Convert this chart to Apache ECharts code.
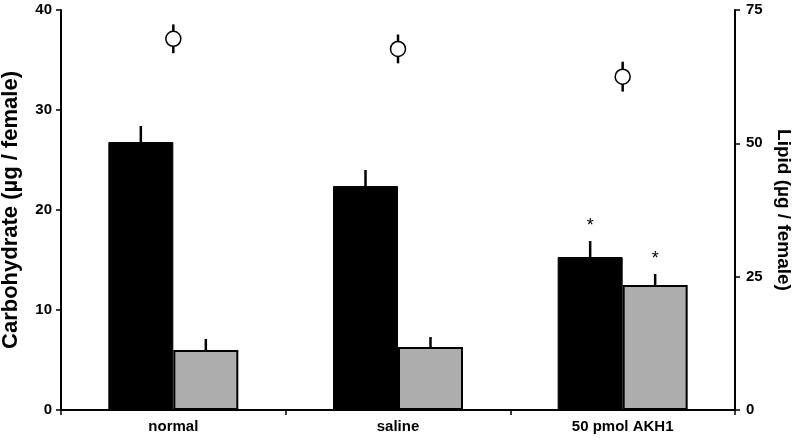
<!DOCTYPE html>
<html><head><meta charset="utf-8">
<script src="https://cdn.jsdelivr.net/npm/echarts@6/dist/echarts.min.js"></script>
<style>html,body{margin:0;padding:0;background:#fff}#c{width:800px;height:446px}</style>
</head><body><div id="c"></div>
<script>
const categories = ['normal', 'saline', '50 pmol AKH1'];
const blackVals = [26.8, 22.4, 15.3];
const blackErr  = [1.6, 1.6, 1.6];
const greyVals  = [6.0, 6.3, 12.5];
const greyErr   = [1.1, 1.0, 1.1];
const lipidVals = [69.6, 67.7, 62.5];
const lipidErr  = [2.7, 2.7, 2.8];
const blackSig  = [false, false, true];
const greySig   = [false, false, true];
const leftTicks = [0, 10, 20, 30, 40];
const rightTicks = [0, 25, 50, 75];

const FONT = '"Liberation Sans", Arial, sans-serif';
const BAR_W = 65;

function barErrSeries(vals, errs, sig, offset) {
  return {
    type: 'custom', xAxisIndex: 0, yAxisIndex: 0, z: 5,
    data: vals.map((v, i) => [i, v, errs[i], sig[i] ? 1 : 0]),
    renderItem: function (params, api) {
      const i = api.value(0), v = api.value(1), e = api.value(2), s = api.value(3);
      const p0 = api.coord([i, v]);
      const p1 = api.coord([i, v + e]);
      const x = p0[0] + offset;
      const children = [{
        type: 'line',
        shape: { x1: x, y1: p0[1], x2: x, y2: p1[1] },
        style: { stroke: '#000', lineWidth: 2.5 }
      }];
      if (s) {
        children.push({
          type: 'text',
          style: { text: '*', x: x, y: p1[1] - 6, align: 'center', verticalAlign: 'bottom',
                   font: '18px ' + FONT, fill: '#000' }
        });
      }
      return { type: 'group', children: children };
    }
  };
}

const chart = echarts.init(document.getElementById('c'), null, { renderer: 'canvas' });
chart.setOption({
  animation: false,
  backgroundColor: '#fff',
  grid: { left: 61, right: 65, top: 10, bottom: 36, containLabel: false, outerBoundsMode: 'none' },
  xAxis: {
    type: 'category', data: categories,
    axisLine: { lineStyle: { color: '#000', width: 2 } },
    axisTick: { show: true, length: 5, lineStyle: { color: '#000', width: 1.5 } },
    axisLabel: { color: '#000', fontWeight: 'bold', fontSize: 15, fontFamily: FONT, margin: 9 },
    splitLine: { show: false }
  },
  yAxis: [{
    type: 'value', min: 0, max: 40, interval: 10, position: 'left',
    name: 'Carbohydrate (µg / female)', nameLocation: 'middle', nameGap: 39, nameRotate: 90,
    nameTextStyle: { color: '#000', fontWeight: 'bold', fontSize: 22, fontFamily: FONT },
    axisLine: { show: true, lineStyle: { color: '#000', width: 2 } },
    axisTick: { show: true, length: 5, lineStyle: { color: '#000', width: 1.5 } },
    axisLabel: { color: '#000', fontWeight: 'bold', fontSize: 15, fontFamily: FONT, margin: 9,
                 formatter: v => leftTicks.includes(v) ? String(v) : '' },
    splitLine: { show: false }
  }, {
    type: 'value', min: 0, max: 75, interval: 25, position: 'right',
    name: 'Lipid (µg / female)', nameLocation: 'middle', nameGap: 38, nameRotate: -90,
    nameTextStyle: { color: '#000', fontWeight: 'bold', fontSize: 19, fontFamily: FONT },
    axisLine: { show: true, lineStyle: { color: '#000', width: 2 } },
    axisTick: { show: true, length: 5, lineStyle: { color: '#000', width: 1.5 } },
    axisLabel: { color: '#000', fontWeight: 'bold', fontSize: 15, fontFamily: FONT, margin: 11,
                 formatter: v => rightTicks.includes(v) ? String(v) : '' },
    splitLine: { show: false }
  }],
  series: [
    { type: 'bar', data: blackVals, barWidth: BAR_W, barGap: '0%', yAxisIndex: 0,
      itemStyle: { color: '#000', borderColor: '#000', borderWidth: 1 } },
    { type: 'bar', data: greyVals, barWidth: BAR_W, barGap: '0%', yAxisIndex: 0,
      itemStyle: { color: '#adadad', borderColor: '#000', borderWidth: 2 } },
    barErrSeries(blackVals, blackErr, blackSig, -BAR_W / 2),
    barErrSeries(greyVals, greyErr, greySig, BAR_W / 2),
    {
      type: 'custom', xAxisIndex: 0, yAxisIndex: 1, z: 4,
      data: lipidVals.map((v, i) => [i, v, lipidErr[i]]),
      renderItem: function (params, api) {
        const i = api.value(0), v = api.value(1), e = api.value(2);
        const a = api.coord([i, v - e]), b = api.coord([i, v + e]);
        return { type: 'line', shape: { x1: a[0], y1: a[1], x2: b[0], y2: b[1] },
                 style: { stroke: '#000', lineWidth: 2.5 } };
      }
    },
    { type: 'scatter', data: lipidVals, yAxisIndex: 1, z: 6, symbol: 'circle', symbolSize: 15,
      itemStyle: { color: '#fff', borderColor: '#000', borderWidth: 1.5, opacity: 1 } }
  ]
});
</script></body></html>
